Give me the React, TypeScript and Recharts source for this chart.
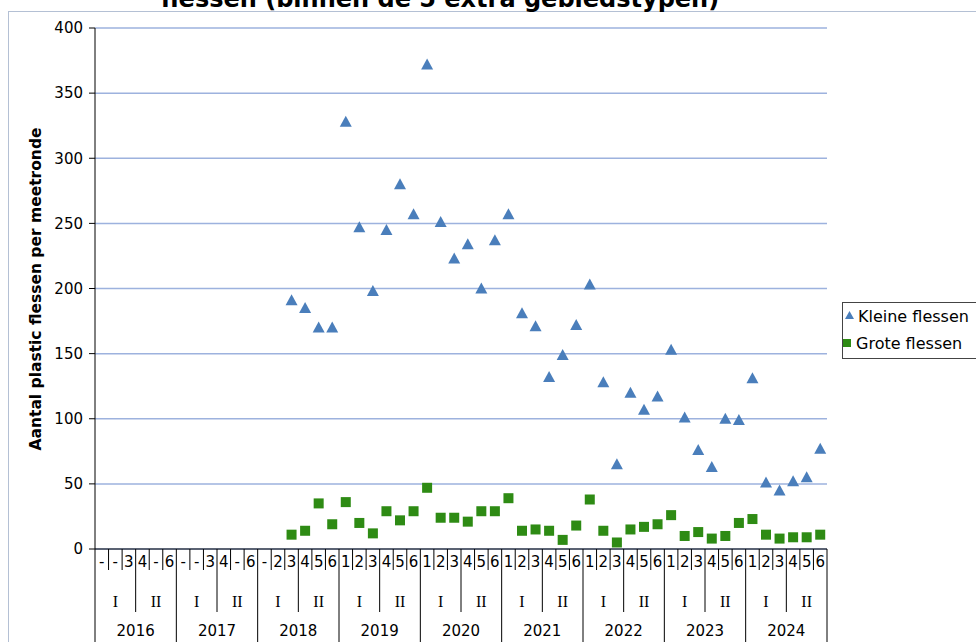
import { CartesianGrid, ComposedChart, Line, XAxis, YAxis } from "recharts";

const years = ["2016", "2017", "2018", "2019", "2020", "2021", "2022", "2023", "2024"];

const roundLabels: string[][] = [
  ["-", "-", "3", "4", "-", "6"],
  ["-", "-", "3", "4", "-", "6"],
  ["-", "2", "3", "4", "5", "6"],
  ["1", "2", "3", "4", "5", "6"],
  ["1", "2", "3", "4", "5", "6"],
  ["1", "2", "3", "4", "5", "6"],
  ["1", "2", "3", "4", "5", "6"],
  ["1", "2", "3", "4", "5", "6"],
  ["1", "2", "3", "4", "5", "6"],
];

const halves = ["I", "II"];

// one value per meetronde, 6 per year
const kleineFlessen: (number | null)[] = [
  null, null, null, null, null, null,
  null, null, null, null, null, null,
  null, null, 191, 185, 170, 170,
  328, 247, 198, 245, 280, 257,
  372, 251, 223, 234, 200, 237,
  257, 181, 171, 132, 149, 172,
  203, 128, 65, 120, 107, 117,
  153, 101, 76, 63, 100, 99,
  131, 51, 45, 52, 55, 77,
];

const groteFlessen: (number | null)[] = [
  null, null, null, null, null, null,
  null, null, null, null, null, null,
  null, null, 11, 14, 35, 19,
  36, 20, 12, 29, 22, 29,
  47, 24, 24, 21, 29, 29,
  39, 14, 15, 14, 7, 18,
  38, 14, 5, 15, 17, 19,
  26, 10, 13, 8, 10, 20,
  23, 11, 8, 9, 9, 11,
];

const yTicks = [0, 50, 100, 150, 200, 250, 300, 350, 400];

const seriesNames = ["Kleine flessen", "Grote flessen"];

const BLUE = "#4a7ebb";
const GREEN = "#2e8b14";
const FONT = "DejaVu Sans, Verdana, sans-serif";

const WIDTH = 976;
const HEIGHT = 642;
const PLOT_LEFT = 95;
const PLOT_RIGHT = 827;
const PLOT_TOP = 28;
const AXIS_Y = 549;

const data = years.flatMap((year, yi) =>
  roundLabels[yi].map((label, ri) => ({
    id: `${year}-${ri + 1}`,
    year,
    half: halves[Math.floor(ri / 3)],
    label,
    kleine: kleineFlessen[yi * 6 + ri],
    grote: groteFlessen[yi * 6 + ri],
  })),
);

const BAND = (PLOT_RIGHT - PLOT_LEFT) / data.length;

function CategoryTick(props: any) {
  const { x, index } = props;
  const d = data[index];
  if (!d) return null;
  const r = index % 6;
  const right = x + BAND / 2;
  const sepEnd = r === 5 ? HEIGHT : r === 2 ? 612 : 570;

  return (
    <g>
      {index === 0 && (
        <line x1={x - BAND / 2} x2={x - BAND / 2} y1={AXIS_Y} y2={HEIGHT} stroke="#000" />
      )}
      <line x1={right} x2={right} y1={AXIS_Y} y2={sepEnd} stroke="#000" />
      <text x={x} y={567} textAnchor="middle" fontSize={15} fontFamily={FONT} fill="#000">
        {d.label}
      </text>
      {r % 3 === 1 && (
        <text
          x={x}
          y={607}
          textAnchor="middle"
          fontSize={16}
          fontFamily="Liberation Serif, Times New Roman, serif"
          fill="#000"
        >
          {d.half}
        </text>
      )}
      {r === 2 && (
        <text x={right} y={636} textAnchor="middle" fontSize={15} fontFamily={FONT} fill="#000">
          {d.year}
        </text>
      )}
    </g>
  );
}

function renderTriangle(props: any) {
  const { cx, cy, value, index } = props;
  if (value == null || cy == null) return <g key={`t${index}`} />;
  return (
    <polygon
      key={`t${index}`}
      points={`${cx},${cy - 6} ${cx + 6},${cy + 5} ${cx - 6},${cy + 5}`}
      fill={BLUE}
    />
  );
}

function renderSquare(props: any) {
  const { cx, cy, value, index } = props;
  if (value == null || cy == null) return <g key={`s${index}`} />;
  return <rect key={`s${index}`} x={cx - 5} y={cy - 5} width={10} height={10} fill={GREEN} />;
}

export default function App() {
  return (
    <div
      style={{
        position: "absolute",
        left: 0,
        top: 0,
        width: WIDTH,
        height: HEIGHT,
        overflow: "hidden",
        background: "#fff",
      }}
    >
      <svg
        width={WIDTH}
        height={HEIGHT}
        style={{ position: "absolute", left: 0, top: 0 }}
      >
        <rect x={8.5} y={11.5} width={1000} height={700} fill="none" stroke="#b4c0d4" />
        <text
          x={440}
          y={7}
          textAnchor="middle"
          fontSize={24}
          fontWeight="bold"
          fontFamily={FONT}
          fill="#000"
        >
          flessen (binnen de 5 extra gebiedstypen)
        </text>
        <text
          transform="translate(41,289) rotate(-90)"
          textAnchor="middle"
          fontSize={15.5}
          fontWeight="bold"
          fontFamily={FONT}
          fill="#000"
        >
          Aantal plastic flessen per meetronde
        </text>
      </svg>

      <div style={{ position: "absolute", left: 0, top: 0 }}>
        <ComposedChart
          width={WIDTH}
          height={HEIGHT}
          data={data}
          margin={{ top: PLOT_TOP, right: WIDTH - PLOT_RIGHT, bottom: 0, left: 0 }}
        >
          <CartesianGrid vertical={false} stroke="#9db2de" strokeWidth={1.5} />
          <XAxis
            dataKey="id"
            scale="band"
            interval={0}
            tickLine={false}
            axisLine={{ stroke: "#000" }}
            height={HEIGHT - AXIS_Y}
            tick={CategoryTick}
          />
          <YAxis
            domain={[0, 400]}
            ticks={yTicks}
            interval={0}
            width={PLOT_LEFT}
            tickSize={6}
            tickMargin={6}
            axisLine={{ stroke: "#000" }}
            tickLine={{ stroke: "#000" }}
            tick={{ fill: "#000", fontSize: 15, fontFamily: FONT }}
          />
          <Line
            dataKey="kleine"
            name={seriesNames[0]}
            stroke="none"
            strokeWidth={0}
            dot={renderTriangle}
            activeDot={false}
            isAnimationActive={false}
          />
          <Line
            dataKey="grote"
            name={seriesNames[1]}
            stroke="none"
            strokeWidth={0}
            dot={renderSquare}
            activeDot={false}
            isAnimationActive={false}
          />
        </ComposedChart>
      </div>

      <svg
        width={WIDTH}
        height={HEIGHT}
        style={{ position: "absolute", left: 0, top: 0, pointerEvents: "none" }}
      >
        <rect x={842.5} y={302.5} width={200} height={56} fill="#fff" stroke="#444" />
        <polygon points="849.5,311 854,319 845,319" fill={BLUE} />
        <text x={858} y={322} fontSize={16} fontFamily={FONT} fill="#000">
          {seriesNames[0]}
        </text>
        <rect x={843} y={339} width={8} height={8} fill={GREEN} />
        <text x={856} y={349} fontSize={16} fontFamily={FONT} fill="#000">
          {seriesNames[1]}
        </text>
      </svg>
    </div>
  );
}
